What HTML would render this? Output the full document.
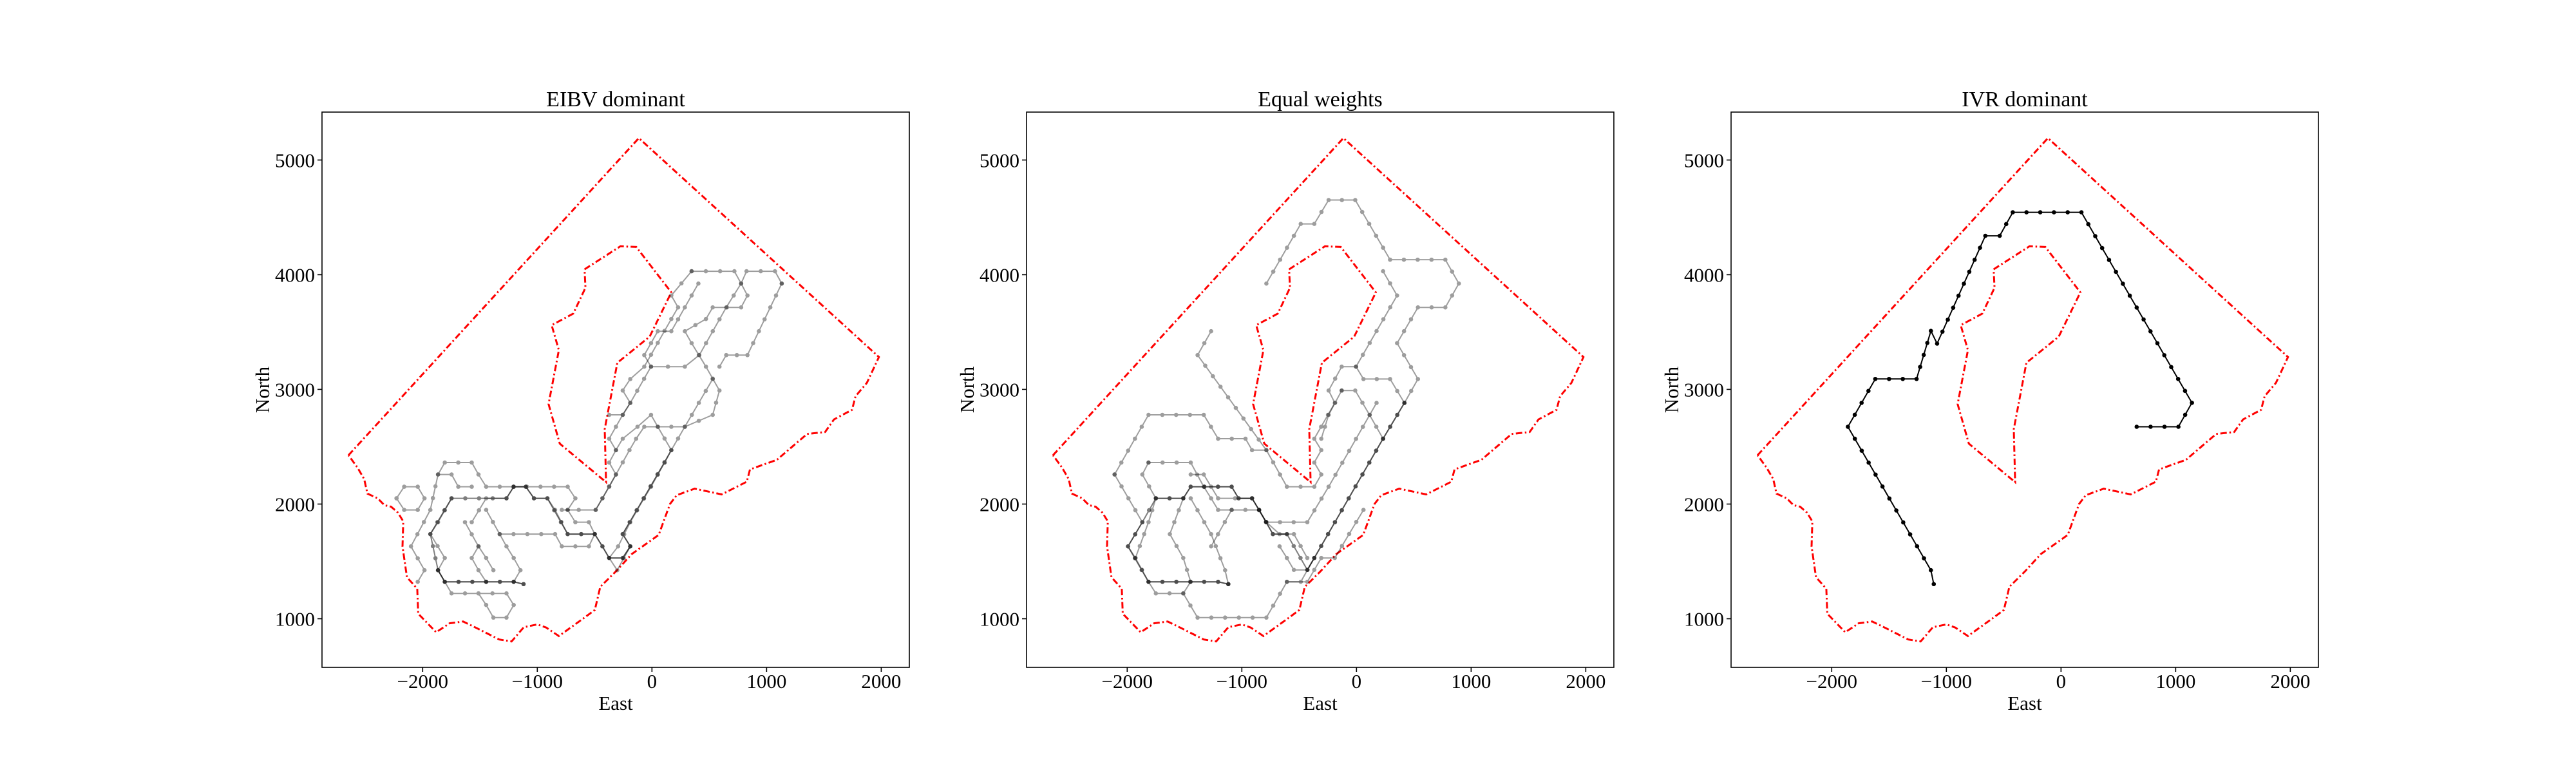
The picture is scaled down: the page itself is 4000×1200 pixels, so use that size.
<!DOCTYPE html>
<html><head><meta charset="utf-8">
<style>
html,body{margin:0;padding:0;background:#fff;}
svg{display:block;font-family:"Liberation Serif","DejaVu Serif",serif;}
</style></head>
<body>
<svg id="fig" width="4000" height="1200" viewBox="0 0 4000 1200" xmlns="http://www.w3.org/2000/svg">
<rect width="4000" height="1200" fill="#fff"/>
</svg>
<script>
// ---- data ----
const panelTitles = ["EIBV dominant", "Equal weights", "IVR dominant"];
const xTicks = [-2000, -1000, 0, 1000, 2000];
const yTicks = [1000, 2000, 3000, 4000, 5000];
const xTickLabels = ["\u22122000", "\u22121000", "0", "1000", "2000"];
const yTickLabels = ["1000", "2000", "3000", "4000", "5000"];
const xLimits = [-2878, 2245];
const yLimits = [576, 5418];

const outerBoundary = [[-2647,2426],[-114,5191],[1980,3282],[1875,3057],[1776,2940],[1745,2822],[1588,2738],[1510,2628],[1353,2611],[1090,2386],[855,2302],[827,2195],[608,2084],[373,2134],[216,2077],[157,2000],[59,1731],[-176,1564],[-314,1413],[-451,1278],[-498,1077],[-588,1010],[-812,849],[-922,923],[-1000,950],[-1118,926],[-1224,802],[-1333,819],[-1510,909],[-1647,976],[-1765,960],[-1882,882],[-2039,1044],[-2047,1262],[-2137,1362],[-2176,1631],[-2169,1849],[-2216,1926],[-2275,1977],[-2333,1990],[-2392,2050],[-2482,2091],[-2510,2218],[-2569,2319],[-2647,2426]];
const innerBoundary = [[-588,4047],[-275,4248],[-137,4242],[169,3846],[-20,3460],[-302,3232],[-412,2654],[-400,2191],[-804,2527],[-902,2872],[-812,3342],[-875,3560],[-686,3661],[-580,3886],[-588,4047]];

const eibvPaths = [
 [[1132,3923],[1073,4030],[825,4030],[778,3923],[833,3819],[778,3715],[530,3715],[471,3614],[287,3507],[346,3403],[471,3198],[589,2990],[530,2778],[287,2674],[-67,2674],[-138,2570],[-196,2470],[-373,2151],[-491,1949],[-786,1949]],
 [[346,4030],[719,4030],[778,3923],[648,3715],[413,3299],[287,3198],[-8,3198],[-189,2882],[-255,2778],[-373,2778]],
 [[1132,3923],[833,3299],[648,3299],[589,3198]],
 [[405,3923],[169,3507],[51,3507],[-67,3299],[-8,3198]],
 [[346,4030],[169,3819],[228,3715],[169,3614],[-67,3198],[-189,3090],[-255,2990],[-189,2882],[-255,2778],[-314,2674],[-373,2570],[-314,2470],[-373,2362],[-314,2258],[-432,2050],[-491,1949]],
 [[530,3090],[287,2674],[169,2470],[-189,1842],[-295,1631],[-373,1530],[-303,1423],[-189,1631],[-255,1738],[-8,2151],[110,2362],[169,2470],[51,2674],[-8,2778],[-126,2674],[-255,2570],[-314,2470]],
 [[-2043,1322],[-1984,1423],[-2102,1631],[-1933,1949],[-1866,2258],[-1807,2362],[-1572,2362],[-1513,2258],[-1446,2151],[-735,2151],[-668,2050],[-735,1949]],
 [[-1748,2050],[-1866,1842],[-1933,1738],[-1807,1530],[-1866,1423],[-1807,1322],[-1206,1322],[-1120,1302]],
 [[-1866,1423],[-1748,1221],[-1513,1221],[-1446,1120],[-1383,1010],[-1269,1010],[-1206,1120],[-1269,1221],[-1513,1221]],
 [[-1572,1842],[-1446,2050],[-1269,2050],[-1206,2151],[-1100,2151],[-1029,2050],[-912,2050],[-845,1949],[-735,1738],[-499,1738],[-432,1631],[-373,1530],[-255,1530],[-189,1631]],
 [[-1631,1842],[-1513,1631],[-1446,1530],[-1383,1423]],
 [[-1513,1631],[-1572,1530],[-1513,1423],[-1446,1322]],
 [[-1446,1949],[-1328,1738],[-845,1738],[-786,1631],[-550,1631],[-499,1738],[-550,1842],[-668,1842],[-735,1949]],
 [[-1328,1738],[-1269,1631],[-1206,1530],[-1147,1423],[-1206,1322]],
 [[-1866,2258],[-1748,2258],[-1689,2151],[-1572,2151]],
 [[-2228,2050],[-2161,2151],[-2043,2151],[-1984,2050],[-2043,1949],[-2161,1949],[-2228,2050]]
];
const eibvFinal = [[-1120,1302],[-1206,1322],[-1807,1322],[-1866,1423],[-1933,1738],[-1748,2050],[-1269,2050],[-1206,2151],[-1100,2151],[-1029,2050],[-912,2050],[-735,1738],[-499,1738],[-432,1631],[-373,1530],[-255,1530],[-189,1631],[-255,1738],[110,2362],[169,2470]];

const equalPaths = [
 [[-786,3923],[-546,4339],[-486,4443],[-368,4443],[-243,4651],[-11,4651],[293,4131],[775,4131],[893,3923],[775,3715],[536,3715],[354,3403],[536,3090],[418,2882],[232,2570],[-368,1530],[-486,1322],[-607,1322],[-786,1010],[-1386,1010],[-1511,1221],[-1750,1221],[-1814,1322]],
 [[232,4030],[354,3819],[-4,3198],[-129,3198],[-243,2990],[-189,2882],[-368,2570],[-307,2470],[-368,2362],[-307,2258],[-368,2151],[-607,2151],[-786,2470],[-1386,3299],[-1268,3507]],
 [[-4,3198],[61,3090],[293,3090],[418,2882]],
 [[-129,2990],[-11,2990],[114,2778],[232,2570]],
 [[-129,2990],[-243,2778],[-307,2570]],
 [[175,2882],[-243,2151],[-429,1842],[-786,1842],[-911,2050],[-1207,2050],[-1268,2151],[-1332,2258],[-1446,2258]],
 [[-2110,2258],[-1814,2778],[-1332,2778],[-1207,2570],[-968,2570],[-911,2470],[-786,2470]],
 [[-2110,2258],[-1868,1842],[-1993,1631],[-1928,1530],[-1814,1322],[-1207,1322],[-1118,1302]],
 [[-1814,2362],[-1446,2362],[-1332,2151],[-1268,2050],[-1207,1949],[-850,1949],[-786,1842],[-671,1738],[-546,1738],[-429,1530]],
 [[-1814,2362],[-1868,2258],[-1750,2050],[-1511,2050],[-1446,2151],[-1089,2151],[-1028,2050],[-911,2050],[-850,1949],[-729,1738],[-607,1738]],
 [[-1750,2050],[-1814,1842],[-1928,1530]],
 [[-1511,2050],[-1628,1738],[-1511,1530],[-1446,1322],[-1511,1221]],
 [[-1446,2050],[-1268,1738],[-1146,1423],[-1118,1302]],
 [[-1268,1631],[-1089,1949]],
 [[-671,1631],[-607,1530],[-546,1426],[-429,1426],[-368,1530]],
 [[61,1949],[-189,1530],[-307,1530],[-429,1322],[-607,1322]]
];
const equalFinal = [[-1118,1302],[-1207,1322],[-1814,1322],[-1993,1631],[-1868,1842],[-1750,2050],[-1511,2050],[-1446,2151],[-1089,2151],[-1028,2050],[-911,2050],[-850,1949],[-729,1738],[-607,1738],[-429,1426],[-368,1530],[232,2570],[418,2882]];

const ivrPaths = [];
const ivrFinal = [[-1110,1302],[-1135,1423],[-1859,2674],[-1620,3091],[-1260,3091],[-1135,3510],[-1081,3399],[-660,4339],[-535,4339],[-421,4544],[178,4544],[1142,2883],[1024,2674],[660,2674]];

const panelPaths = [eibvPaths, equalPaths, ivrPaths];
const panelFinals = [eibvFinal, equalFinal, ivrFinal];

// ---- layout ----
const NS = "http://www.w3.org/2000/svg";
const fig = document.getElementById("fig");
const axLefts = [500, 1594, 2688];
const axW = 912, axTop = 174, axBot = 1036;
const STEP = 120;

function mk(tag, attrs, parent) {
  const e = document.createElementNS(NS, tag);
  for (const k in attrs) e.setAttribute(k, attrs[k]);
  parent.appendChild(e);
  return e;
}

panelTitles.forEach((title, pi) => {
  const L = axLefts[pi];
  const sx = v => L + (v - xLimits[0]) / (xLimits[1] - xLimits[0]) * axW;
  const sy = v => axBot - (v - yLimits[0]) / (yLimits[1] - yLimits[0]) * (axBot - axTop);
  const g = mk("g", {}, fig);
  
  

  const pts = arr => arr.map(p => sx(p[0]).toFixed(1) + "," + sy(p[1]).toFixed(1)).join(" ");

  const ob = mk("polyline", {points: pts(outerBoundary), fill: "none", stroke: "#ff0000", "stroke-width": 3, "stroke-dasharray": "10,4,2.5,4"}, g);
  
  
  const ib = mk("polyline", {points: pts(innerBoundary), fill: "none", stroke: "#ff0000", "stroke-width": 3, "stroke-dasharray": "10,4,2.5,4"}, g);
  
  

  function drawPath(arr, opacity, name) {
    const pg = mk("g", {opacity: opacity}, g);
    
    
    mk("polyline", {points: pts(arr), fill: "none", stroke: "#000", "stroke-width": 2, "stroke-linejoin": "round"}, pg);
    for (let i = 0; i < arr.length; i++) {
      const p = arr[i];
      const c = mk("circle", {cx: sx(p[0]), cy: sy(p[1]), r: 3.3, fill: "#000"}, pg);
      
      
      if (i < arr.length - 1) {
        const q = arr[i + 1];
        const len = Math.hypot(q[0] - p[0], q[1] - p[1]);
        const n = Math.max(1, Math.round(len / STEP));
        for (let k = 1; k < n; k++) {
          const t = k / n;
          const m = mk("circle", {cx: sx(p[0] + (q[0] - p[0]) * t), cy: sy(p[1] + (q[1] - p[1]) * t), r: 3.3, fill: "#000"}, pg);
          
          
        }
      }
    }
  }
  panelPaths[pi].forEach((p, j) => drawPath(p, 0.38, 'candidate-path-' + (j + 1)));
  drawPath(panelFinals[pi], pi === 2 ? 1 : 0.5, 'final-path');

  const fr = mk("rect", {x: L, y: axTop, width: axW, height: axBot - axTop, fill: "none", stroke: "#000", "stroke-width": 1.6}, g);
  
  

  xTicks.forEach((v, i) => {
    const x = sx(v);
    mk("line", {x1: x, y1: axBot, x2: x, y2: axBot + 7, stroke: "#000", "stroke-width": 1.6}, g);
    const t = mk("text", {x: x, y: 1068, "font-size": 31, "text-anchor": "middle", fill: "#000"}, g);
    t.textContent = xTickLabels[i];
    
    
  });
  yTicks.forEach((v, i) => {
    const y = sy(v);
    mk("line", {x1: L - 7, y1: y, x2: L, y2: y, stroke: "#000", "stroke-width": 1.6}, g);
    const t = mk("text", {x: L - 11, y: y + 11, "font-size": 31, "text-anchor": "end", fill: "#000"}, g);
    t.textContent = yTickLabels[i];
    
    
  });

  const tt = mk("text", {x: L + axW / 2, y: 165, "font-size": 34, "text-anchor": "middle", fill: "#000"}, g);
  tt.textContent = title;
  
  

  const xl = mk("text", {x: L + axW / 2, y: 1102, "font-size": 31, "text-anchor": "middle", fill: "#000"}, g);
  xl.textContent = "East";
  
  

  const yl = mk("text", {x: 0, y: 0, "font-size": 31, "text-anchor": "middle", fill: "#000", transform: "translate(" + (L - 82) + "," + ((axTop + axBot) / 2) + ") rotate(-90)"}, g);
  yl.textContent = "North";
  
  
});
</script>
</body></html>
